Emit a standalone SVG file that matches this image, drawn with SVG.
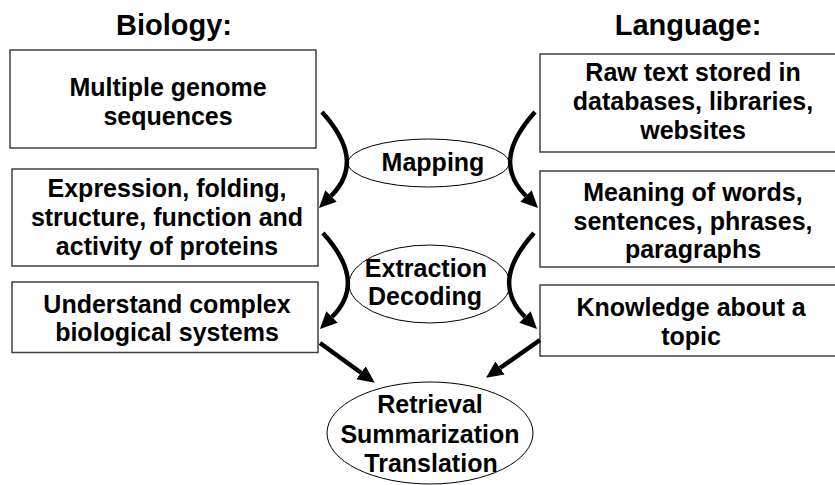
<svg xmlns="http://www.w3.org/2000/svg" width="835" height="485" viewBox="0 0 835 485">
<style>
.box{fill:#fff;stroke:#404040;stroke-width:1.5}
.ell{fill:#fff;stroke:#000;stroke-width:1}
.t{font-family:"Liberation Sans",Arial,sans-serif;font-weight:bold;font-size:25px;fill:#000;text-anchor:middle}
.h{font-size:29px}
.arr{fill:none;stroke:#000;stroke-width:4.5}
</style>
<defs>
<marker id="ah" markerUnits="userSpaceOnUse" markerWidth="20" markerHeight="20" viewBox="0 -10 20 20" refX="0" refY="0" orient="auto">
<path d="M0,-8 L17,0 L0,8 z" fill="#000"/>
</marker>
</defs>
<rect width="835" height="485" fill="#fff"/>
<text class="t h" x="174" y="35">Biology:</text>
<text class="t h" x="688" y="35">Language:</text>
<g id="bio1"><rect class="box" x="10" y="50" width="306" height="98"/>
<text class="t" x="168" y="96">Multiple genome</text><text class="t" x="168" y="125">sequences</text></g>
<g id="bio2"><rect class="box" x="12" y="169" width="306" height="97"/>
<text class="t" x="167" y="197">Expression, folding,</text><text class="t" x="167" y="226">structure, function and</text><text class="t" x="167" y="255">activity of proteins</text></g>
<g id="bio3"><rect class="box" x="12" y="282" width="306" height="70.5"/>
<text class="t" x="167" y="313">Understand complex</text><text class="t" x="167" y="341">biological systems</text></g>
<g id="lang1"><rect class="box" x="540" y="54" width="310" height="98"/>
<text class="t" x="693" y="81">Raw text stored in</text><text class="t" x="693" y="110">databases, libraries,</text><text class="t" x="693" y="139">websites</text></g>
<g id="lang2"><rect class="box" x="540" y="171" width="310" height="96"/>
<text class="t" x="693" y="201">Meaning of words,</text><text class="t" x="693" y="230">sentences, phrases,</text><text class="t" x="693" y="258">paragraphs</text></g>
<g id="lang3"><rect class="box" x="540" y="285" width="310" height="71"/>
<text class="t" x="691" y="316">Knowledge about a</text><text class="t" x="691" y="345">topic</text></g>
<g id="mapping"><ellipse class="ell" cx="428.5" cy="163" rx="80.5" ry="24"/>
<text class="t" x="433" y="171">Mapping</text></g>
<g id="extraction"><ellipse class="ell" cx="429.5" cy="284" rx="80.5" ry="39"/>
<text class="t" x="426" y="277">Extraction</text><text class="t" x="425" y="305">Decoding</text></g>
<g id="retrieval"><ellipse class="ell" cx="430" cy="433" rx="103" ry="51"/>
<text class="t" x="430" y="413">Retrieval</text><text class="t" x="430" y="443">Summarization</text><text class="t" x="431" y="472">Translation</text></g>
<g id="connectors">
<path class="arr" marker-end="url(#ah)" d="M322,112 C349,142 357,170 331,196"/>
<path class="arr" marker-end="url(#ah)" d="M323,233 C350,263 358,291 332,317"/>
<path class="arr" marker-end="url(#ah)" d="M535,112 C508,142 500,170 526,196"/>
<path class="arr" marker-end="url(#ah)" d="M534,233 C507,263 499,291 525,317"/>
<path class="arr" marker-end="url(#ah)" d="M320,343 L361,372.8"/>
<path class="arr" marker-end="url(#ah)" d="M540,340 L500,368"/>
</g>
</svg>
